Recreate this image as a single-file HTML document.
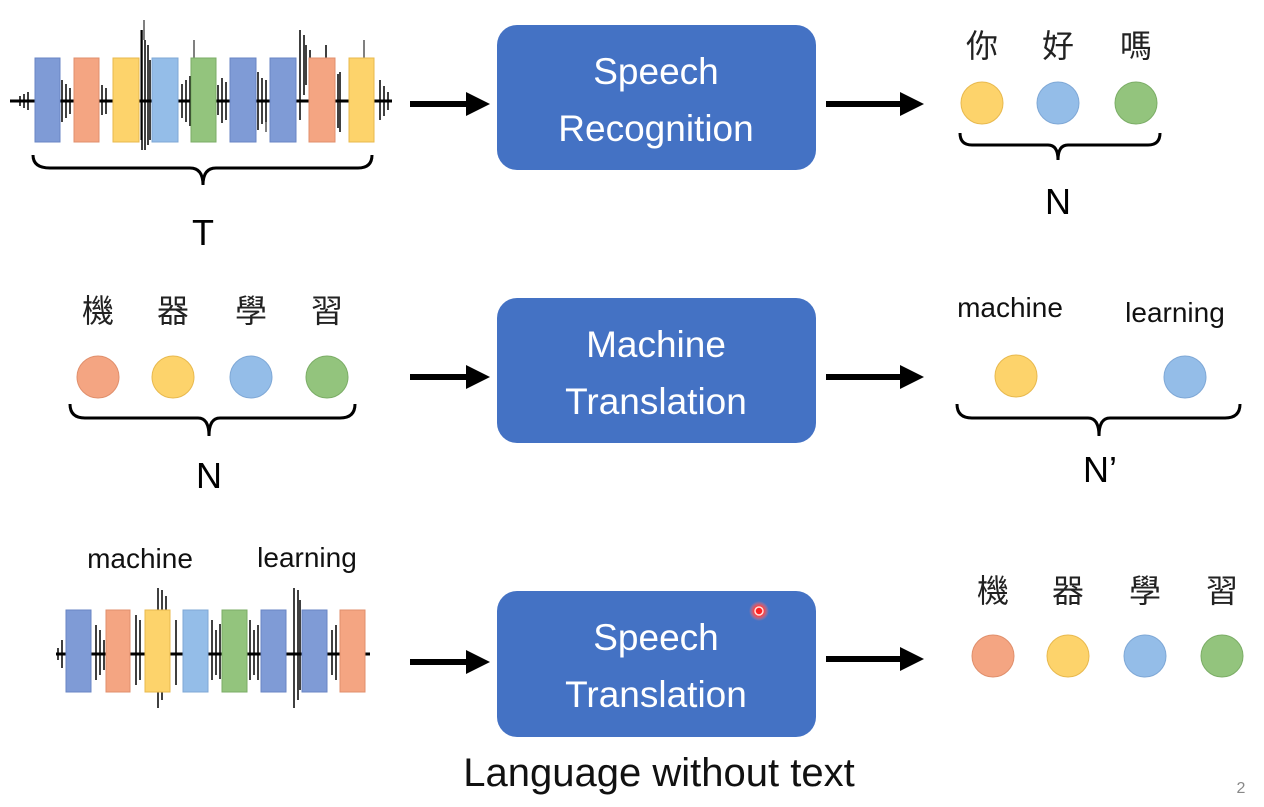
<!DOCTYPE html>
<html><head><meta charset="utf-8"><style>
body{margin:0;background:#fff;}
svg text{font-family:"Liberation Sans","Noto Sans CJK TC",sans-serif;}
</style></head><body>
<svg width="1264" height="802" viewBox="0 0 1264 802" xmlns="http://www.w3.org/2000/svg">
<defs>
<marker id="ah" markerWidth="4" markerHeight="4" refX="2" refY="2" orient="auto" markerUnits="strokeWidth"><path d="M0,0 L4,2 L0,4 Z" fill="#000"/></marker>
<radialGradient id="rd"><stop offset="0" stop-color="#ff2020"/><stop offset="0.5" stop-color="#ff4040"/><stop offset="1" stop-color="#ff8080" stop-opacity="0"/></radialGradient>
</defs>
<!-- waveform top -->
<g stroke="#000" fill="none">
<line x1="10" y1="101" x2="392" y2="101" stroke-width="3"/>
<path stroke-width="1.5" d="M20,96v10M24,94v14M28,92v18M62,80v42M66,84v34M70,88v26M102,85v30M106,88v26M142,30v120M145,40v110M148,45v100M150,60v80M154,70v60M182,84v34M186,80v42M190,76v50M218,85v30M222,78v45M226,82v38M258,72v58M262,78v46M266,80v42M300,30v90M304,35v60M306,45v40M310,50v40M338,74v54M340,72v60M380,80v40M384,86v30M388,92v18M138,70v70M326,45v50"/>
<path stroke-width="1" d="M96,122v10M141,30v110M144,20v20M194,40v20M266,122v10M312,122v12M364,40v18"/>
</g>
<g stroke-width="1">
<rect x="35" y="58" width="25" height="84" fill="#7f9bd6" stroke="#6a86c4"/>
<rect x="74" y="58" width="25" height="84" fill="#f4a582" stroke="#e08f6c"/>
<rect x="113" y="58" width="26" height="84" fill="#fdd36b" stroke="#e8b94e"/>
<rect x="152" y="58" width="26" height="84" fill="#94bde8" stroke="#7fa8d6"/>
<rect x="191" y="58" width="25" height="84" fill="#93c47d" stroke="#7bad66"/>
<rect x="230" y="58" width="26" height="84" fill="#7f9bd6" stroke="#6a86c4"/>
<rect x="270" y="58" width="26" height="84" fill="#7f9bd6" stroke="#6a86c4"/>
<rect x="309" y="58" width="26" height="84" fill="#f4a582" stroke="#e08f6c"/>
<rect x="349" y="58" width="25" height="84" fill="#fdd36b" stroke="#e8b94e"/>
</g>
<path d="M33,155 Q33,168 50,168 L190,168 Q203,168 203,185 Q203,168 216,168 L358,168 Q372,168 372,155" stroke="#000" stroke-width="3" fill="none"/>
<text x="203" y="245" font-size="36" text-anchor="middle">T</text>

<!-- waveform bottom -->
<g stroke="#000" fill="none">
<line x1="56" y1="654" x2="370" y2="654" stroke-width="3"/>
<path stroke-width="1.5" d="M58,648v12M62,640v28M96,625v55M100,630v45M104,640v30M136,615v70M140,620v60M158,588v120M162,590v110M166,596v90M176,620v65M212,620v60M216,630v45M220,624v55M250,620v60M254,630v45M258,625v55M294,588v120M298,590v110M300,600v90M332,630v45M336,625v55M140,640v30"/>
</g>
<g stroke-width="1">
<rect x="66" y="610" width="25" height="82" fill="#7f9bd6" stroke="#6a86c4"/>
<rect x="106" y="610" width="24" height="82" fill="#f4a582" stroke="#e08f6c"/>
<rect x="145" y="610" width="25" height="82" fill="#fdd36b" stroke="#e8b94e"/>
<rect x="183" y="610" width="25" height="82" fill="#94bde8" stroke="#7fa8d6"/>
<rect x="222" y="610" width="25" height="82" fill="#93c47d" stroke="#7bad66"/>
<rect x="261" y="610" width="25" height="82" fill="#7f9bd6" stroke="#6a86c4"/>
<rect x="302" y="610" width="25" height="82" fill="#7f9bd6" stroke="#6a86c4"/>
<rect x="340" y="610" width="25" height="82" fill="#f4a582" stroke="#e08f6c"/>
</g>
<text x="140" y="568" font-size="28" text-anchor="middle" fill="#111">machine</text>
<text x="307" y="567" font-size="28" text-anchor="middle" fill="#111">learning</text>

<!-- boxes -->
<g fill="#4472c4">
<rect x="497" y="25" width="319" height="145" rx="20"/>
<rect x="497" y="298" width="319" height="145" rx="20"/>
<rect x="497" y="591" width="319" height="146" rx="20"/>
</g>
<g fill="#fff" font-size="37" text-anchor="middle">
<text x="656" y="84">Speech</text><text x="656" y="141">Recognition</text>
<text x="656" y="357">Machine</text><text x="656" y="414">Translation</text>
<text x="656" y="650">Speech</text><text x="656" y="707">Translation</text>
</g>
<circle cx="759" cy="611" r="10" fill="url(#rd)"/>
<circle cx="759" cy="611" r="4" fill="#ff2020" stroke="#ffe0e0" stroke-width="1.5"/>

<!-- arrows -->
<g stroke="#000" stroke-width="6" marker-end="url(#ah)">
<line x1="410" y1="104" x2="478" y2="104"/>
<line x1="826" y1="104" x2="912" y2="104"/>
<line x1="410" y1="377" x2="478" y2="377"/>
<line x1="826" y1="377" x2="912" y2="377"/>
<line x1="410" y1="662" x2="478" y2="662"/>
<line x1="826" y1="659" x2="912" y2="659"/>
</g>

<!-- row1 right -->
<g font-size="32" text-anchor="middle" fill="#222">
<text x="982" y="57">你</text><text x="1058" y="57">好</text><text x="1136" y="57">嗎</text>
</g>
<circle cx="982" cy="103" r="21" fill="#fdd36b" stroke="#e8b94e"/>
<circle cx="1058" cy="103" r="21" fill="#94bde8" stroke="#7fa8d6"/>
<circle cx="1136" cy="103" r="21" fill="#93c47d" stroke="#7bad66"/>
<path d="M960,133 Q960,145 972,145 L1048,145 Q1058,145 1058,160 Q1058,145 1068,145 L1148,145 Q1160,145 1160,133" stroke="#000" stroke-width="3" fill="none"/>
<text x="1058" y="214" font-size="36" text-anchor="middle">N</text>

<!-- row2 left -->
<g font-size="32" text-anchor="middle" fill="#222">
<text x="98" y="322">機</text><text x="173" y="322">器</text><text x="251" y="322">學</text><text x="327" y="322">習</text>
</g>
<circle cx="98" cy="377" r="21" fill="#f4a582" stroke="#e08f6c"/>
<circle cx="173" cy="377" r="21" fill="#fdd36b" stroke="#e8b94e"/>
<circle cx="251" cy="377" r="21" fill="#94bde8" stroke="#7fa8d6"/>
<circle cx="327" cy="377" r="21" fill="#93c47d" stroke="#7bad66"/>
<path d="M70,404 Q70,418 85,418 L198,418 Q209,418 209,436 Q209,418 220,418 L340,418 Q355,418 355,404" stroke="#000" stroke-width="3" fill="none"/>
<text x="209" y="488" font-size="36" text-anchor="middle">N</text>

<!-- row2 right -->
<text x="1010" y="317" font-size="28" text-anchor="middle" fill="#111">machine</text>
<text x="1175" y="322" font-size="28" text-anchor="middle" fill="#111">learning</text>
<circle cx="1016" cy="376" r="21" fill="#fdd36b" stroke="#e8b94e"/>
<circle cx="1185" cy="377" r="21" fill="#94bde8" stroke="#7fa8d6"/>
<path d="M957,404 Q957,418 972,418 L1088,418 Q1099,418 1099,436 Q1099,418 1110,418 L1225,418 Q1240,418 1240,404" stroke="#000" stroke-width="3" fill="none"/>
<text x="1100" y="482" font-size="36" text-anchor="middle">N’</text>

<!-- row3 right -->
<g font-size="32" text-anchor="middle" fill="#222">
<text x="993" y="602">機</text><text x="1068" y="602">器</text><text x="1145" y="602">學</text><text x="1222" y="602">習</text>
</g>
<circle cx="993" cy="656" r="21" fill="#f4a582" stroke="#e08f6c"/>
<circle cx="1068" cy="656" r="21" fill="#fdd36b" stroke="#e8b94e"/>
<circle cx="1145" cy="656" r="21" fill="#94bde8" stroke="#7fa8d6"/>
<circle cx="1222" cy="656" r="21" fill="#93c47d" stroke="#7bad66"/>

<text x="659" y="786" font-size="40" text-anchor="middle" fill="#111">Language without text</text>
<text x="1241" y="793" font-size="16" text-anchor="middle" fill="#888">2</text>
</svg>
</body></html>
